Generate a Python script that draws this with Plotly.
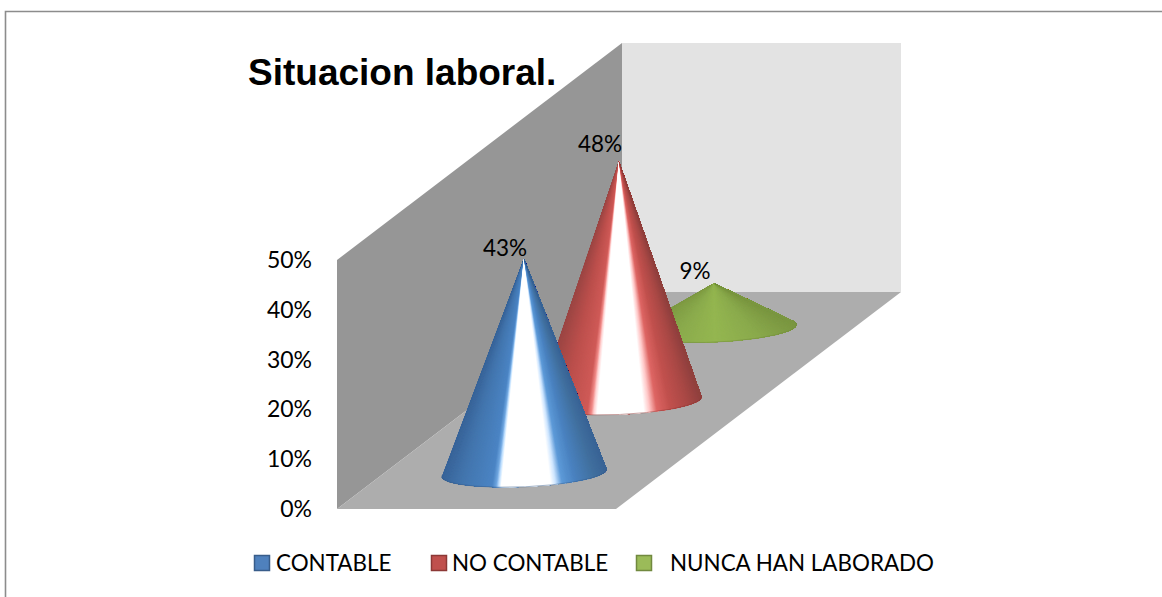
import math
import plotly.graph_objects as go

# ---- data ----
categories = ["CONTABLE", "NO CONTABLE", "NUNCA HAN LABORADO"]
values = [43, 48, 9]
value_labels = ["43%", "48%", "9%"]
tick_values = [0, 10, 20, 30, 40, 50]
tick_labels = ["0%", "10%", "20%", "30%", "40%", "50%"]
title_text = "Situacion laboral."

# ---- styles ----
swatch_fill = ["#4f81bd", "#c0504d", "#9bbb59"]
swatch_line = ["#385d8a", "#8c3836", "#71893f"]
shades = [
    [(0, "#3a659a"), (.12, "#4376ae"), (.3, "#4b84c4"), (.325, "#6fa6e0"), (.34, "#bfe0ff"), (.355, "#ffffff"),
     (.655, "#ffffff"), (.685, "#cfe6ff"), (.725, "#5d9ad8"), (.8, "#4a82c0"), (.92, "#41709f"), (1, "#3a6496")],
    [(0, "#9c4644"), (.15, "#bb4f4c"), (.3, "#cf5a57"), (.325, "#f08a88"), (.34, "#ffd0d0"), (.36, "#ffffff"),
     (.645, "#ffffff"), (.68, "#ffc8c8"), (.725, "#de6664"), (.8, "#c2514e"), (.92, "#a84845"), (1, "#8f403e")],
    [(0, "#7f9c45"), (.25, "#8bab4d"), (.5, "#94b650"), (.75, "#8bab4d"), (1, "#7b9742")],
]
LEFT_WALL, BACK_WALL, FLOOR = "#969696", "#e3e3e3", "#adadad"
FONT = "Lato, sans-serif"
label_dx = [-19, -19, -19]
label_dy = [8, 15, 10]

# ---- oblique projection of the 3D chart onto the 2D axes ----
W, H = 1162, 597
PX_PER_PCT = 4.98
ZERO_PX = 509
X0, FRONT_W, DEPTH_X, DEPTH_PCT = 337, 279, 285, 217 / PX_PER_PCT
AXIS_MAX = tick_values[-1]
RX, RY_PX, TILT = 82.5, 14, math.radians(2.5)
STRIPS = 300


def project(u, d, v):
    return X0 + FRONT_W * u + DEPTH_X * d, v + DEPTH_PCT * d


def y_of_px(px):
    return (ZERO_PX - px) / PX_PER_PCT


def mix(stops, f):
    for (f0, c0), (f1, c1) in zip(stops, stops[1:]):
        if f <= f1:
            t = (f - f0) / (f1 - f0) if f1 > f0 else 0
            a = [int(c0[i:i + 2], 16) for i in (1, 3, 5)]
            b = [int(c1[i:i + 2], 16) for i in (1, 3, 5)]
            return "rgb(%d,%d,%d)" % tuple(round(p + (q - p) * t) for p, q in zip(a, b))
    return stops[-1][1]


def poly(xs, ys, color):
    return go.Scatter(x=xs, y=ys, mode="lines", fill="toself", fillcolor=color,
                      line=dict(width=0), hoverinfo="skip", showlegend=False)


fig = go.Figure()

# walls and floor
for u_d_v, col in [
    ([(0, 0, 0), (0, 0, AXIS_MAX), (0, 1, AXIS_MAX), (0, 1, 0)], LEFT_WALL),
    ([(0, 1, 0), (0, 1, AXIS_MAX), (1, 1, AXIS_MAX), (1, 1, 0)], BACK_WALL),
    ([(0, 0, 0), (1, 0, 0), (1, 1, 0), (0, 1, 0)], FLOOR),
]:
    pts = [project(*p) for p in u_d_v]
    fig.add_trace(poly([p[0] for p in pts], [p[1] for p in pts], col))

# cones, far to near
N = len(categories)
for i in reversed(range(N)):
    cx, cy = project(.5, (i + .5) / N, 0)
    apex_x, apex_y = cx, cy + values[i]
    t0 = math.asin(min(.9, RY_PX / (values[i] * PX_PER_PCT)))

    def rim(th):
        ex, ey = RX * math.cos(th), RY_PX * math.sin(th)
        return (cx + ex * math.cos(TILT) - ey * math.sin(TILT),
                cy + (ex * math.sin(TILT) + ey * math.cos(TILT)) / PX_PER_PCT)

    start, end = math.pi - t0, 2 * math.pi + t0  # left tangent, under the front, right tangent
    thetas = [start + (end - start) * k / STRIPS for k in range(STRIPS + 1)]
    rim_pts = [rim(t) for t in thetas]
    for k in range(STRIPS):
        pts = rim_pts[k:]
        f = (1 + math.cos(thetas[k])) / 2
        fig.add_trace(poly([apex_x] + [p[0] for p in pts] + [apex_x],
                           [apex_y] + [p[1] for p in pts] + [apex_y], mix(shades[i], f)))
    fig.add_trace(go.Scatter(x=[p[0] for p in rim_pts], y=[p[1] for p in rim_pts], mode="lines",
                             line=dict(color=swatch_line[i], width=0.8), opacity=0.6,
                             hoverinfo="skip", showlegend=False))

# value labels
fig.add_trace(go.Scatter(
    x=[project(.5, (i + .5) / N, 0)[0] + label_dx[i] for i in range(N)],
    y=[project(.5, (i + .5) / N, 0)[1] + values[i] + label_dy[i] / PX_PER_PCT for i in range(N)],
    mode="text", text=value_labels, textposition="middle center",
    textfont=dict(family=FONT, size=22.5, color="#000000"), hoverinfo="skip", showlegend=False))

# legend row
legend_swatch_x = [262, 439, 644]
legend_text_x = [276, 452, 670]
for i, name in enumerate(categories):
    fig.add_trace(go.Scatter(
        x=[legend_swatch_x[i]], y=[y_of_px(563)], mode="markers", name=name,
        marker=dict(symbol="square", size=15, color=swatch_fill[i], line=dict(width=1.5, color=swatch_line[i])),
        hoverinfo="skip", showlegend=False))
    fig.add_trace(go.Scatter(
        x=[legend_text_x[i]], y=[y_of_px(565)], mode="text", text=[name], name=name,
        textposition="middle right", textfont=dict(family=FONT, size=22.4, color="#000000"),
        hoverinfo="skip", showlegend=False))

# outer frame
fig.add_trace(go.Scatter(x=[5.5, 5.5, W], y=[y_of_px(H), y_of_px(11.5), y_of_px(11.5)], mode="lines",
                         line=dict(color="#8c8c8c", width=1.6), hoverinfo="skip", showlegend=False))

fig.update_layout(
    width=W, height=H, autosize=False, margin=dict(l=0, r=0, t=0, b=0),
    paper_bgcolor="#ffffff", plot_bgcolor="#ffffff", showlegend=False,
    title=dict(text="<b>%s</b>" % title_text, x=248 / W, xanchor="left", y=1 - 72 / H, yanchor="middle",
               font=dict(family="Liberation Sans", size=37, color="#000000")),
    xaxis=dict(range=[0, W], domain=[0, 1], visible=False, fixedrange=True),
    yaxis=dict(range=[y_of_px(H), y_of_px(0)], domain=[0, 1], tickmode="array", tickvals=tick_values,
               ticktext=tick_labels, showgrid=False, zeroline=False, showline=False, ticks="",
               anchor="free", position=312 / W, fixedrange=True,
               tickfont=dict(family=FONT, size=23, color="#000000")),
)

fig.write_html("out.html", config=dict(displayModeBar=False),
               post_script="document.body.style.margin='0';")
